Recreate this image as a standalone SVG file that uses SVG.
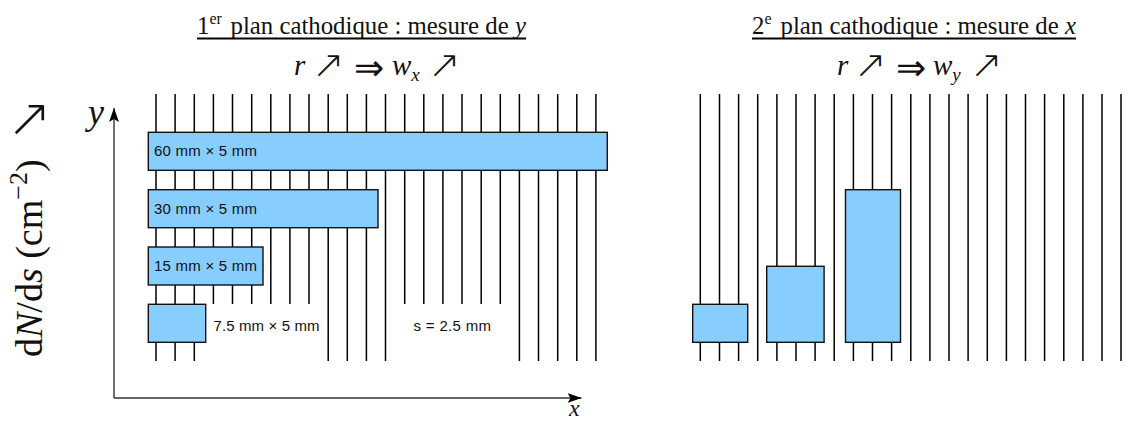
<svg xmlns="http://www.w3.org/2000/svg" width="1135" height="421" viewBox="0 0 1135 421">
<style>
text{fill:#111}
.t{font-family:"Liberation Serif",serif;font-size:24.800px}
.m{font-family:"Liberation Serif",serif;font-style:italic}
.s{font-family:"DejaVu Sans",sans-serif;font-style:normal;font-weight:200}
.l{font-family:"Liberation Sans",sans-serif;font-size:15px}
.b{fill:#87CEFF;stroke:#111;stroke-width:1.4}
.w{stroke:#000;stroke-width:1.5;fill:none}
.a{stroke:#333;stroke-width:1.4;fill:none}
.u{fill:#000}
</style>
<defs><marker id="h" markerUnits="userSpaceOnUse" markerWidth="16" markerHeight="12" refX="14" refY="5" orient="auto"><path d="M0 0L14 5L0 10L3 5Z" fill="#000"/></marker></defs>
<g id="connectors">
<path class="w" d="M156 94V361M175.100 94V361M194.300 94V361M213.400 94V304M232.500 94V304M251.700 94V304M270.800 94V304M289.900 94V304M309 94V304M328.200 94V361M347.300 94V361M366.400 94V361M385.500 94V361M404.700 94V304M423.800 94V304M442.900 94V304M462 94V304M481.200 94V304M500.300 94V304M519.400 94V361M538.500 94V361M557.700 94V361M576.800 94V361M595.900 94V361"/>
<path class="w" d="M700.300 94V361M719.500 94V361M738.600 94V361M757.700 94V361M776.900 94V361M796 94V361M815.100 94V361M834.200 94V361M853.400 94V361M872.500 94V361M891.600 94V361M910.800 94V361M929.900 94V361M949 94V361M968.100 94V361M987.300 94V361M1006.400 94V361M1025.500 94V361M1044.600 94V361M1063.800 94V361M1082.900 94V361M1102 94V361M1121 94V361"/>
<path class="a" d="M114 398V108" marker-end="url(#h)"/>
<path class="a" d="M114 398H581.500" marker-end="url(#h)"/>
</g>
<g id="node-60"><rect class="b" x="148.300" y="132.300" width="459" height="38"/><text class="l" x="154" y="156" textLength="103">60 mm × 5 mm</text></g>
<g id="node-30"><rect class="b" x="148.300" y="189.700" width="229.700" height="38"/><text class="l" x="154" y="214" textLength="103">30 mm × 5 mm</text></g>
<g id="node-15"><rect class="b" x="148.300" y="247" width="114.700" height="38"/><text class="l" x="154" y="271" textLength="103">15 mm × 5 mm</text></g>
<g id="node-7"><rect class="b" x="148.300" y="304.300" width="57.400" height="38"/><text class="l" x="213.500" y="331" textLength="106">7.5 mm × 5 mm</text></g>
<g id="node-s"><text class="l" x="413.500" y="331" textLength="77.500">s = 2.5 mm</text></g>
<g id="node-b1"><rect class="b" x="692.700" y="304.300" width="55" height="38"/></g>
<g id="node-b2"><rect class="b" x="766.700" y="266.300" width="57.400" height="76"/></g>
<g id="node-b3"><rect class="b" x="845.500" y="189.700" width="55" height="152.600"/></g>
<g id="title1"><text class="t" x="197" y="34">1<tspan font-size="16" dy="-10">er</tspan><tspan dy="10" x="230.500">plan cathodique : mesure de </tspan><tspan class="m">y</tspan></text><rect class="u" x="197" y="37.500" width="329" height="2"/></g>
<g id="title2"><text class="t" x="752" y="34">2<tspan font-size="16" dy="-10">e</tspan><tspan dy="10" x="780.500">plan cathodique : mesure de </tspan><tspan class="m">x</tspan></text><rect class="u" x="752" y="37.500" width="324" height="2"/></g>
<g id="eq1"><text class="m" font-size="29"><tspan x="294" y="75">r</tspan><tspan class="s" x="312" y="78" font-size="39">↗</tspan><tspan class="s" x="354" y="80" font-size="36">⇒</tspan><tspan x="392" y="75">w</tspan><tspan font-size="19" y="81">x</tspan><tspan class="s" x="428" y="78" font-size="39">↗</tspan></text></g>
<g id="eq2"><text class="m" font-size="29"><tspan x="837" y="75">r</tspan><tspan class="s" x="854" y="78" font-size="39">↗</tspan><tspan class="s" x="896" y="80" font-size="36">⇒</tspan><tspan x="933" y="75">w</tspan><tspan font-size="19" y="81">y</tspan><tspan class="s" x="970" y="78" font-size="39">↗</tspan></text></g>
<g id="ylabel"><text class="t" style="font-size:38px" transform="translate(42 357) rotate(-90)">d<tspan class="m">N</tspan>/d<tspan class="m">s</tspan> (cm<tspan font-size="26" dy="-15">−2</tspan><tspan dy="15">)</tspan></text><text class="s" x="7" y="136" font-size="54">↗</text></g>
<g id="axis-y"><text class="m" x="88" y="124" font-size="36">y</text></g>
<g id="axis-x"><text class="m" x="569" y="415.500" font-size="24">x</text></g>
</svg>
